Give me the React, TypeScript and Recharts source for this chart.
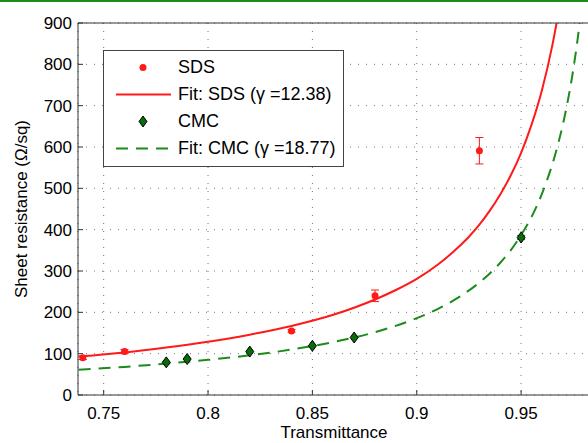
import { ComposedChart, Line, Scatter, ErrorBar, XAxis, YAxis, CartesianGrid } from 'recharts'

const xTicks = [0.75, 0.8, 0.85, 0.9, 0.95]
const yTicks = [0, 100, 200, 300, 400, 500, 600, 700, 800, 900]

// measured points
const sdsT = [0.74, 0.76, 0.84, 0.88, 0.93]
const sdsR = [90, 105, 155, 240, 591]
const sdsErr = [4, 5, 3, 14, 32]

const cmcT = [0.78, 0.79, 0.82, 0.85, 0.87, 0.95]
const cmcR = [79, 87, 105, 119, 139, 381]
const cmcErr = [0, 0, 0, 0, 0, 5]

// fitted curves
const sdsFitT = [0.738, 0.76, 0.78, 0.8, 0.82, 0.84, 0.86, 0.88, 0.89, 0.9, 0.91, 0.92, 0.925, 0.93, 0.935, 0.94, 0.945, 0.95, 0.955, 0.96, 0.965, 0.968, 0.97]
const sdsFitR = [93, 103, 115, 129, 146, 167, 194, 231, 254, 281, 315, 358, 383, 412, 446, 485, 531, 586, 654, 738, 847, 929, 992]

const cmcFitT = [0.738, 0.76, 0.78, 0.8, 0.82, 0.84, 0.86, 0.88, 0.9, 0.91, 0.92, 0.93, 0.935, 0.94, 0.945, 0.95, 0.955, 0.96, 0.962, 0.965, 0.968, 0.972, 0.975, 0.978, 0.982, 0.985]
const cmcFitR = [61, 68, 76, 85, 96, 110, 128, 152, 186, 208, 236, 272, 294, 320, 350, 387, 431, 487, 514, 559, 613, 702, 788, 898, 1101, 1324]

const sdsData = sdsT.map((t, i) => ({ t, r: sdsR[i], err: sdsErr[i] }))
const cmcData = cmcT.map((t, i) => ({ t, r: cmcR[i], err: cmcErr[i] }))
const sdsFit = sdsFitT.map((t, i) => ({ t, r: sdsFitR[i] }))
const cmcFit = cmcFitT.map((t, i) => ({ t, r: cmcFitR[i] }))

const RED = '#ff1a1a'
const GREEN = '#1b8c1b'
const FONT = '"Liberation Sans", Arial, Helvetica, sans-serif'
const tickStyle = { fill: '#000', fontSize: 17, fontFamily: FONT }

const Dot = (props: any) => <circle cx={props.cx} cy={props.cy} r={3.5} fill={RED} />

const Diamond = (props: any) => {
    const { cx, cy } = props
    return <polygon points={`${cx},${cy - 5.5} ${cx + 4},${cy} ${cx},${cy + 5.5} ${cx - 4},${cy}`} fill="#0a6b0a" stroke="#000" strokeWidth={1} />
}

function LegendBox() {
    const row = { display: 'flex', alignItems: 'center', height: 27 }
    const icon = { width: 62, height: 27, marginLeft: 8 }
    return (
        <div
            style={{
                position: 'absolute',
                left: 103,
                top: 50,
                width: 241,
                height: 117,
                border: '1.5px solid #444',
                background: '#fff',
                fontFamily: FONT,
                fontSize: 18,
                color: '#000',
                paddingTop: 3,
                boxSizing: 'border-box',
            }}
        >
            <div style={row}>
                <svg style={icon}><circle cx={31} cy={13.5} r={3.5} fill={RED} /></svg>
                <span style={{ marginLeft: 4 }}>SDS</span>
            </div>
            <div style={row}>
                <svg style={icon}><line x1={4} x2={59} y1={13.5} y2={13.5} stroke={RED} strokeWidth={2} /></svg>
                <span style={{ marginLeft: 4 }}>Fit: SDS (γ =12.38)</span>
            </div>
            <div style={row}>
                <svg style={icon}><Diamond cx={31} cy={13.5} /></svg>
                <span style={{ marginLeft: 4 }}>CMC</span>
            </div>
            <div style={row}>
                <svg style={icon}><line x1={4} x2={59} y1={13.5} y2={13.5} stroke={GREEN} strokeWidth={2} strokeDasharray="12 8" /></svg>
                <span style={{ marginLeft: 4 }}>Fit: CMC (γ =18.77)</span>
            </div>
        </div>
    )
}

export default function App() {
    return (
        <div style={{ position: 'absolute', left: 0, top: 0, width: 588, height: 443, overflow: 'hidden', background: '#fff' }}>
            <div style={{ position: 'absolute', left: 0, top: 0, width: 588, height: 2, background: GREEN }} />
            <ComposedChart width={592} height={443} margin={{ top: 22, right: 0, bottom: 0, left: 0 }}>
                <CartesianGrid stroke="#777" strokeDasharray="1 7" />
                <XAxis
                    dataKey="t"
                    type="number"
                    domain={[0.7377, 0.983]}
                    ticks={xTicks}
                    allowDataOverflow
                    height={48}
                    tickSize={-5}
                    tickMargin={17}
                    stroke="#333"
                    tick={tickStyle}
                    label={{ value: 'Transmittance', position: 'insideBottom', offset: 5, style: { fill: '#000', fontSize: 17, fontFamily: FONT } }}
                />
                <XAxis
                    xAxisId="top"
                    orientation="top"
                    dataKey="t"
                    type="number"
                    domain={[0.7377, 0.983]}
                    ticks={xTicks}
                    height={1}
                    tickSize={-5}
                    stroke="#333"
                    tickFormatter={() => ''}
                />
                <YAxis
                    type="number"
                    domain={[0, 900]}
                    ticks={yTicks}
                    allowDataOverflow
                    width={78}
                    tickSize={-5}
                    tickMargin={11}
                    stroke="#333"
                    tick={tickStyle}
                    label={{
                        content: () => (
                            <text x={21} y={209} transform="rotate(-90 21 209)" textAnchor="middle" dominantBaseline="central" fill="#000" fontSize={17} fontFamily={FONT}>
                                Sheet resistance (Ω/sq)
                            </text>
                        ),
                    }}
                />
                <YAxis
                    yAxisId="right"
                    orientation="right"
                    type="number"
                    domain={[0, 900]}
                    ticks={yTicks}
                    width={2}
                    tickSize={-5}
                    stroke="#333"
                    tickFormatter={() => ''}
                />
                <Line data={sdsFit} dataKey="r" type="monotone" stroke={RED} strokeWidth={2} dot={false} isAnimationActive={false} />
                <Line data={cmcFit} dataKey="r" type="monotone" stroke={GREEN} strokeWidth={2} strokeDasharray="12 8" dot={false} isAnimationActive={false} />
                <Scatter data={sdsData} dataKey="r" shape={Dot} isAnimationActive={false}>
                    <ErrorBar dataKey="err" direction="y" width={4} stroke={RED} strokeWidth={1} />
                </Scatter>
                <Scatter data={cmcData} dataKey="r" shape={Diamond} isAnimationActive={false}>
                    <ErrorBar dataKey="err" direction="y" width={4} stroke={GREEN} strokeWidth={1} />
                </Scatter>
            </ComposedChart>
            <LegendBox />
        </div>
    )
}
